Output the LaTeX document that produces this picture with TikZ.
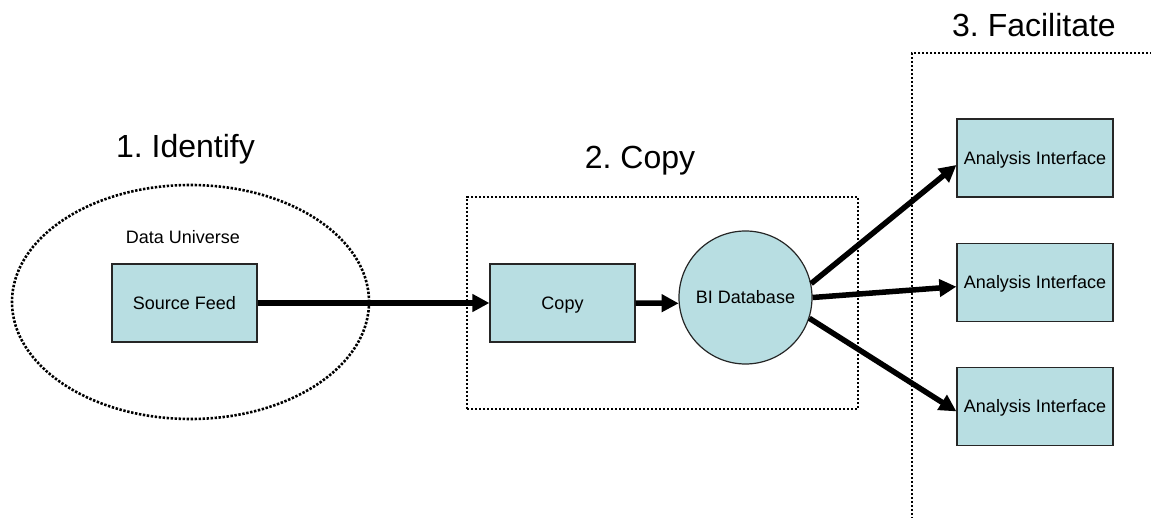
\documentclass[tikz,border=0pt]{standalone}
\usepackage{fontspec}
\setmainfont{Liberation Sans}
\usepackage{tikz}
\usetikzlibrary{shapes, arrows.meta, positioning}
\frenchspacing
\definecolor{boxfill}{RGB}{184,222,226}
\tikzstyle{every node}=[font=\fontsize{18}{22}\selectfont]
\tikzstyle{block}=[draw=black!85,line width=1.2pt,fill=boxfill,rectangle,inner sep=0pt,minimum width=145pt,minimum height=78pt,text height=13pt,text depth=0pt]
\tikzstyle{store}=[block,circle,minimum size=133pt]
\tikzstyle{group}=[draw,line width=2.6pt,dash pattern=on 2.4pt off 1.6pt]
\tikzstyle{title}=[anchor=base,font=\fontsize{32}{38}\selectfont]
\tikzstyle{flow}=[->,line width=5.5pt]

\begin{document}
\begin{tikzpicture}[x=1pt,y=-1pt,auto,>={Triangle[length=17pt,width=17pt]}]
      \useasboundingbox (0,0) rectangle (1151,518);
      \clip (0,0) rectangle (1151,518);
      \node[group, ellipse, minimum width=357pt, minimum height=234pt] (U) at (190.5,302) {};
      \node[group, rectangle, minimum width=391pt, minimum height=212pt] (C) at (662.5,303) {};
      \draw[group] (1200,53) -| (912,560);
      \node[title] (t1) at (185.5,158) {1. Identify};
      \node[title] (t2) at (640,169) {2. Copy};
      \node[title] (t3) at (1034,37) {3. Facilitate};
      \node[anchor=base] (du) at (183,244) {Data Universe};
      \node[block] (SF) at (184.5,303) {Source Feed};
      \node[block] (CP) at (562.5,303) {Copy};
      \node[store] (BI) at (745.5,297.5) {BI Database};
      \node[block, minimum width=156pt] (A1) at (1035,158) {Analysis Interface};
      \node[block, minimum width=156pt, below=45pt of A1] (A2) {Analysis Interface};
      \node[block, minimum width=156pt, below=45pt of A2] (A3) {Analysis Interface};
      \draw[flow] (SF) -- (CP);
      \draw[flow] (CP.east) -- (BI.185);
      \draw[flow] (BI.12) -- ([yshift=-7pt]A1.west);
      \draw[flow] (BI.east) -- ([yshift=-4.5pt]A2.west);
      \draw[flow] (BI.-18) -- ([yshift=-5pt]A3.west);
\end{tikzpicture}
\end{document}
